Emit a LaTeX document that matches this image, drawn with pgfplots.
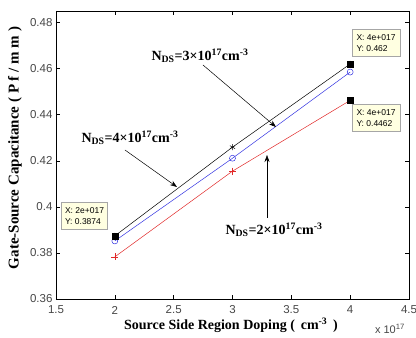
\documentclass[border=0pt]{standalone}
\usepackage{pgfplots}
\pgfplotsset{compat=1.18}
\usepackage{fontspec}
\setmainfont{Liberation Serif}
\newfontfamily\sans{Liberation Sans}
\usetikzlibrary{arrows.meta}
\definecolor{tipbg}{RGB}{255,255,225}
\definecolor{myblue}{RGB}{50,50,225}
\definecolor{myred}{RGB}{225,40,40}
\definecolor{ticktext}{RGB}{70,70,70}
\begin{document}
\begin{tikzpicture}
\path[use as bounding box] (-56pt,-39pt) rectangle (360pt,299pt);
\begin{axis}[
  at={(0pt,0pt)}, anchor=south west,
  scale only axis, width=353pt, height=288pt,
  xmin=1.5, xmax=4.5, ymin=0.36, ymax=0.485,
  xtick={1.5,2,2.5,3,3.5,4,4.5},
  ytick={0.36,0.38,0.4,0.42,0.44,0.46,0.48},
  tick align=inside, tick pos=both,
  major tick length=4pt,
  every tick/.style={black, line width=0.4pt},
  axis line style={black, line width=0.5pt},
  /pgf/number format/assume math mode=true,
  yticklabel style={/pgf/number format/fixed, font=\sans\fontsize{11.5}{13}\selectfont, text=ticktext},
  xticklabel style={font=\sans\fontsize{11.5}{13}\selectfont, text=ticktext, anchor=center, yshift=-11pt},
  clip=false,
]
\addplot[black, line width=0.5pt, mark=asterisk, mark size=3pt] coordinates {(2,0.3874) (3,0.4259) (4,0.462)};
\addplot[myblue, line width=0.5pt, mark=o, mark size=3pt] coordinates {(2,0.3852) (3,0.4211) (4,0.4585)};
\addplot[myred, line width=0.5pt, mark=+, mark size=3.5pt] coordinates {(2,0.3783) (3,0.4155) (4,0.4462)};
\addplot[only marks, black, mark=square*, mark size=3pt] coordinates {(2,0.3874) (4,0.462) (4,0.4462)};
\end{axis}
% data tips
\node[draw=gray!70, fill=tipbg, font=\sans\fontsize{8.5}{10.5}\selectfont, align=left, minimum width=48pt, minimum height=27pt, inner sep=2pt] at (320pt,256pt) {X: 4e+017\\Y: 0.462};
\node[draw=gray!70, fill=tipbg, font=\sans\fontsize{8.5}{10.5}\selectfont, align=left, minimum width=48pt, minimum height=27pt, inner sep=2pt] at (320pt,181pt) {X: 4e+017\\Y: 0.4462};
\node[draw=gray!70, fill=tipbg, font=\sans\fontsize{8.5}{10.5}\selectfont, align=left, minimum width=46pt, minimum height=27pt, inner sep=2pt] at (28.5pt,83pt) {X: 2e+017\\Y: 0.3874};
% annotations
\node[font=\bfseries\fontsize{14}{16}\selectfont] at (144pt,243pt) {N\textsubscript{DS}=3×10\textsuperscript{17}cm\textsuperscript{-3}};
\draw[-{Stealth[length=7pt,width=5pt]}, line width=0.5pt] (147pt,234pt) -- (220pt,172pt);
\node[font=\bfseries\fontsize{14}{16}\selectfont] at (74pt,161pt) {N\textsubscript{DS}=4×10\textsuperscript{17}cm\textsuperscript{-3}};
\draw[-{Stealth[length=7pt,width=5pt]}, line width=0.5pt] (69pt,149pt) -- (121pt,112pt);
\node[font=\bfseries\fontsize{14}{16}\selectfont] at (218pt,69pt) {N\textsubscript{DS}=2×10\textsuperscript{17}cm\textsuperscript{-3}};
\draw[-{Stealth[length=7pt,width=5pt]}, line width=0.5pt] (211pt,81pt) -- (211pt,144pt);
% axis labels
\node[font=\bfseries\fontsize{14}{16}\selectfont] at (175pt,-26pt) {Source Side Region Doping (\, cm\textsuperscript{-3} \,)};
\node[font=\bfseries\fontsize{15}{17}\selectfont, rotate=90] at (-41pt,151pt) {Gate-Source Capacitance ( P f / m m )};
\node[font=\sans\fontsize{11}{13}\selectfont, text=ticktext] at (334pt,-30pt) {x 10\textsuperscript{17}};
\end{tikzpicture}
\end{document}
